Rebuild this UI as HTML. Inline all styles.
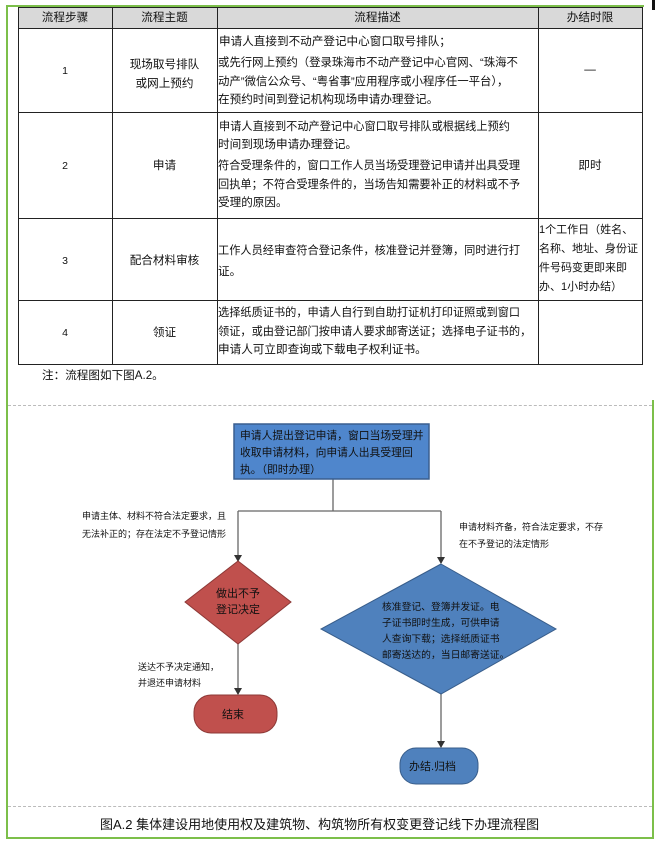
<!DOCTYPE html>
<html><head><meta charset="utf-8"><style>
*{margin:0;padding:0;box-sizing:border-box}
body{width:658px;height:844px;background:#fff;position:relative;overflow:hidden;font-family:"Liberation Sans","Noto Sans CJK SC",sans-serif;color:#111}
.a{position:absolute;white-space:nowrap}
.t{font-size:11.6px;line-height:14px}
.c{text-align:center}
.hl{position:absolute;height:1px;background:#222}
.vl{position:absolute;width:1px;background:#222}
</style></head><body>
<div style="position:absolute;left:6px;top:5px;width:2px;height:834px;background:#7cbf4a"></div>
<div style="position:absolute;left:6px;top:5px;width:638px;height:2px;background:#7cbf4a"></div>
<div style="position:absolute;left:6px;top:837px;width:648px;height:2px;background:#7cbf4a"></div>
<div style="position:absolute;left:652px;top:400px;width:2px;height:439px;background:#7cbf4a"></div>
<div style="position:absolute;left:652px;top:0;width:3px;height:10px;background:#111"></div>
<div style="position:absolute;left:18px;top:7px;width:625px;height:21px;background:#d9d9d9"></div>
<div class="hl" style="left:18px;top:7px;width:625px"></div>
<div class="hl" style="left:18px;top:28px;width:625px"></div>
<div class="hl" style="left:18px;top:112px;width:625px"></div>
<div class="hl" style="left:18px;top:218px;width:625px"></div>
<div class="hl" style="left:18px;top:300px;width:625px"></div>
<div class="hl" style="left:18px;top:364px;width:625px"></div>
<div class="vl" style="left:18px;top:7px;height:358px"></div>
<div class="vl" style="left:112px;top:7px;height:358px"></div>
<div class="vl" style="left:217px;top:7px;height:358px"></div>
<div class="vl" style="left:538px;top:7px;height:358px"></div>
<div class="vl" style="left:642px;top:7px;height:358px"></div>
<div class="a t c" style="left:18px;top:11px;width:94px">流程步骤</div>
<div class="a t c" style="left:112px;top:11px;width:105px">流程主题</div>
<div class="a t c" style="left:217px;top:11px;width:321px">流程描述</div>
<div class="a t c" style="left:538px;top:11px;width:104px">办结时限</div>

<div class="a t c" style="left:18px;top:64px;width:94px;font-size:10.5px">1</div>
<div class="a t c" style="left:112px;top:55px;width:105px;line-height:19px">现场取号排队<br>或网上预约</div>
<div class="a t" style="left:219px;top:35px">申请人直接到不动产登记中心窗口取号排队；</div>
<div class="a t" style="left:218px;top:56px;font-size:11.4px">或先行网上预约（登录珠海市不动产登记中心官网、“珠海不</div>
<div class="a t" style="left:218px;top:75px;font-size:11.4px">动产”微信公众号、“粤省事”应用程序或小程序任一平台），</div>
<div class="a t" style="left:218px;top:93px">在预约时间到登记机构现场申请办理登记。</div>
<div class="a t c" style="left:538px;top:63px;width:104px">—</div>

<div class="a t c" style="left:18px;top:159px;width:94px;font-size:10.5px">2</div>
<div class="a t c" style="left:112px;top:159px;width:105px">申请</div>
<div class="a t" style="left:219px;top:120px;font-size:11.2px">申请人直接到不动产登记中心窗口取号排队或根据线上预约</div>
<div class="a t" style="left:218px;top:138px">时间到现场申请办理登记。</div>
<div class="a t" style="left:218px;top:159px;font-size:11.2px">符合受理条件的，窗口工作人员当场受理登记申请并出具受理</div>
<div class="a t" style="left:218px;top:178px;font-size:11.2px">回执单；不符合受理条件的，当场告知需要补正的材料或不予</div>
<div class="a t" style="left:218px;top:196px">受理的原因。</div>
<div class="a t c" style="left:538px;top:159px;width:104px">即时</div>

<div class="a t c" style="left:18px;top:254px;width:94px;font-size:10.5px">3</div>
<div class="a t c" style="left:112px;top:254px;width:105px">配合材料审核</div>
<div class="a t" style="left:218px;top:244px;font-size:11.2px">工作人员经审查符合登记条件，核准登记并登簿，同时进行打</div>
<div class="a t" style="left:218px;top:265px">证。</div>
<div class="a t" style="left:539px;top:223px;font-size:11px">1个工作日（姓名、</div>
<div class="a t" style="left:539px;top:242px;font-size:11px">名称、地址、身份证</div>
<div class="a t" style="left:539px;top:261px;font-size:11px">件号码变更即来即</div>
<div class="a t" style="left:539px;top:280px;font-size:11px">办、1小时办结）</div>

<div class="a t c" style="left:18px;top:326px;width:94px;font-size:10.5px">4</div>
<div class="a t c" style="left:112px;top:326px;width:105px">领证</div>
<div class="a t" style="left:218px;top:306px;font-size:11.2px">选择纸质证书的，申请人自行到自助打证机打印证照或到窗口</div>
<div class="a t" style="left:218px;top:325px;font-size:11.2px">领证，或由登记部门按申请人要求邮寄送证；选择电子证书的，</div>
<div class="a t" style="left:218px;top:343px">申请人可立即查询或下载电子权利证书。</div>
<div class="a t" style="left:42px;top:369px">注：流程图如下图A.2。</div>

<div style="position:absolute;left:8px;top:405px;width:644px;border-top:1px dashed #bbb"></div>
<div style="position:absolute;left:8px;top:806px;width:644px;border-top:1px dashed #bbb"></div>

<svg style="position:absolute;left:0;top:0" width="658" height="844">
<g stroke="#666" stroke-width="1.3" fill="none">
<line x1="333" y1="479" x2="333" y2="511"/>
<line x1="238" y1="511" x2="441" y2="511"/>
<line x1="238" y1="511" x2="238" y2="561"/>
<line x1="441" y1="511" x2="441" y2="563"/>
<line x1="238" y1="643" x2="238" y2="694"/>
<line x1="441" y1="694" x2="441" y2="747"/>
</g>
<g fill="#333"><path d="M234,555 L242,555 L238,562 z"/><path d="M437,557 L445,557 L441,564 z"/><path d="M234,688 L242,688 L238,695 z"/><path d="M437,741 L445,741 L441,748 z"/></g>
<rect x="234" y="424" width="195" height="55" fill="#4f86cc" stroke="#3a5f8f" stroke-width="1.5"/>
<polygon points="238,561 291,602 238,644 185,602" fill="#c0504d" stroke="#8c3836" stroke-width="1"/>
<polygon points="441,564 556,629 441,694 321,629" fill="#4f81bd" stroke="#385d8a" stroke-width="1"/>
<rect x="194" y="695" width="83" height="38" rx="17" fill="#c0504d" stroke="#8c3836" stroke-width="1"/>
<rect x="400" y="748" width="78" height="36" rx="16" fill="#4f81bd" stroke="#385d8a" stroke-width="1"/>
</svg>
<div class="a" style="left:240px;top:428px;font-size:10.8px;line-height:17px;color:#111">申请人提出登记申请，窗口当场受理并<br>收取申请材料，向申请人出具受理回<br>执。（即时办理）</div>
<div class="a" style="left:82px;top:507px;font-size:9px;line-height:18px">申请主体、材料不符合法定要求，且<br>无法补正的；存在法定不予登记情形</div>
<div class="a" style="left:459px;top:519px;font-size:9px;line-height:17px">申请材料齐备，符合法定要求，不存<br>在不予登记的法定情形</div>
<div class="a" style="left:216px;top:586px;font-size:11px;line-height:16px">做出不予<br>登记决定</div>
<div class="a" style="left:382px;top:600px;font-size:9.8px;line-height:16px">核准登记、登簿并发证。电<br>子证书即时生成，可供申请<br>人查询下载；选择纸质证书<br>邮寄送达的，当日邮寄送证。</div>
<div class="a" style="left:138px;top:659px;font-size:9px;line-height:16px">送达不予决定通知，<br>并退还申请材料</div>
<div class="a" style="left:222px;top:706px;font-size:11px">结束</div>
<div class="a" style="left:409px;top:758px;font-size:11px">办结.归档</div>
<div class="a" style="left:100px;top:814px;font-size:13px">图A.2 集体建设用地使用权及建筑物、构筑物所有权变更登记线下办理流程图</div>
</body></html>
